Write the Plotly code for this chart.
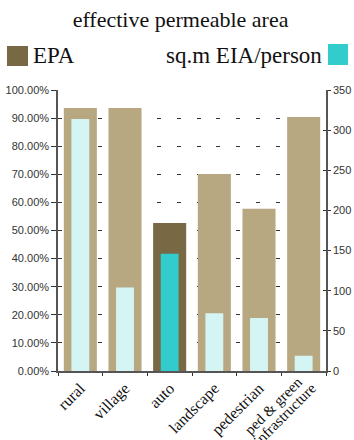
import plotly.graph_objects as go

# Categories and series
categories = ["rural", "village", "auto", "landscape", "pedestrian",
              "ped & green infrastructure"]
epa_share = [0.936, 0.936, 0.527, 0.701, 0.577, 0.904]      # effective permeable area (fraction)
eia_per_person = [314, 104, 146, 72, 66, 19]                 # sq.m EIA / person

epa_colors = ["#B8A882", "#B8A882", "#786843", "#B8A882", "#B8A882", "#B8A882"]
eia_colors = ["#D4F5F3", "#D4F5F3", "#33CCCC", "#D4F5F3", "#D4F5F3", "#D4F5F3"]

# single-line tick labels go on the axis; the two-line one is set line by line
tick_labels = categories[:5] + [""]
last_label_lines = ["ped & green", "infrastructure"]

W, H = 354, 440
ML, MR, MT, MB = 58, 28, 90, 69
PW, PH = W - ML - MR, H - MT - MB


def px_x(x):
    return (x - ML) / PW


def px_y(y):
    return (H - MB - y) / PH


fig = go.Figure()
fig.add_trace(go.Bar(x=categories, y=epa_share, width=0.74, marker_color=epa_colors,
                     marker_line_width=0, yaxis="y", name="EPA"))
fig.add_trace(go.Bar(x=categories, y=eia_per_person, width=0.40, marker_color=eia_colors,
                     marker_line_width=0, yaxis="y2", name="sq.m EIA/person"))
# carrier for the inward tick marks on the right axis
fig.add_trace(go.Scatter(x=[categories[0]], y=[None], yaxis="y3", mode="markers",
                         showlegend=False, hoverinfo="skip"))

tick_font = dict(family="Liberation Sans, Arial, sans-serif", size=11, color="#333")
serif = "Liberation Serif, Times New Roman, serif"

fig.update_layout(
    width=W, height=H,
    margin=dict(l=ML, r=MR, t=MT, b=MB, autoexpand=False),
    paper_bgcolor="white", plot_bgcolor="white",
    barmode="overlay", showlegend=False,
    title=dict(text="effective permeable area", x=0.51, xanchor="center",
               y=1 - 19 / H, yanchor="middle",
               font=dict(family=serif, size=22, color="#111")),
    xaxis=dict(type="category", tickangle=-45, tickson="boundaries",
               tickvals=categories, ticktext=tick_labels,
               ticks="outside", ticklen=3, tickcolor="#333",
               showline=True, linecolor="#555", linewidth=1.5,
               showgrid=False, zeroline=False, automargin=False,
               tickfont=dict(family=serif, size=16, color="#111")),
    yaxis=dict(range=[0, 1], dtick=0.1, tickformat=".2%",
               ticks="outside", ticklen=5, tickcolor="#333",
               showline=True, linecolor="#555", linewidth=1.5,
               showgrid=True, gridcolor="#333", gridwidth=1, griddash="4px,15.8px",
               zeroline=False, automargin=False, tickfont=tick_font),
    yaxis2=dict(range=[0, 350], dtick=50, overlaying="y", side="right",
                ticks="outside", ticklen=3, tickcolor="#333",
                showline=True, linecolor="#555", linewidth=1.5,
                showgrid=False, zeroline=False, automargin=False, tickfont=tick_font),
    yaxis3=dict(range=[0, 350], dtick=50, overlaying="y", side="right",
                ticks="inside", ticklen=3, tickcolor="#333", automargin=False,
                showticklabels=False, showline=False, showgrid=False, zeroline=False),
)

# two-line category label, lines set close together
for line, dx, dy in zip(last_label_lines, [3, 17], [-1, -7]):
    fig.add_annotation(text=line, xref="x", yref="paper", x=categories[5], y=0,
                       xanchor="right", yanchor="top", textangle=-45,
                       xshift=dx, yshift=dy, showarrow=False, borderpad=0,
                       font=dict(family=serif, size=15, color="#111"))

# Legend drawn as swatches and labels
fig.add_shape(type="rect", xref="paper", yref="paper",
              x0=px_x(7), x1=px_x(28), y0=px_y(66), y1=px_y(46),
              fillcolor="#786843", line_width=0)
fig.add_shape(type="rect", xref="paper", yref="paper",
              x0=px_x(328), x1=px_x(348), y0=px_y(65), y1=px_y(44),
              fillcolor="#33CCCC", line_width=0)
fig.add_annotation(text="EPA", xref="paper", yref="paper",
                   x=px_x(31), y=px_y(56), xanchor="left", yanchor="middle",
                   showarrow=False, font=dict(family=serif, size=23, color="#111"))
fig.add_annotation(text="sq.m EIA/person", xref="paper", yref="paper",
                   x=px_x(324), y=px_y(56), xanchor="right", yanchor="middle",
                   showarrow=False, font=dict(family=serif, size=23, color="#111"))

fig.write_html("out.html")
